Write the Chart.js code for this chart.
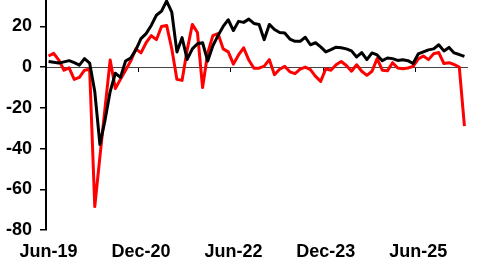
<!DOCTYPE html>
<html>
<head>
<meta charset="utf-8">
<script src="https://cdn.jsdelivr.net/npm/chart.js@4/dist/chart.umd.min.js"></script>
<style>
  html, body { margin: 0; padding: 0; background: #fff; }
</style>
</head>
<body>
<canvas id="myChart" width="487" height="275"></canvas>
<script>
"use strict";

// monthly, Jun-19 onwards
const blackSeries = [
    2.8, 2.4, 2.0, 2.6, 3.2, 2.2, 1.0, 4.2, 2.0, -12,
    -38, -26, -12, -3, -5, 3, 4.5, 8.5, 14, 16.5,
    20.5, 25.5, 27.5, 32.5, 27, 7.5, 14.5, 3.8, 9, 11.5,
    12, 3, 10.5, 15.5, 20, 23.3, 18, 22.5, 22, 23.6,
    21.5, 21, 13.5, 21, 18.5, 17, 16.8, 13.8, 12.7, 12.7,
    14.7, 11, 12, 10, 7.5, 8.6, 9.8, 9.5, 9, 8,
    5, 7.2, 3.7, 7, 6, 3.2, 4.5, 4.2, 3.3, 3.6,
    3.2, 1.8, 6.5, 7.5, 8.5, 9, 11, 8, 9.7, 7,
    6.2, 5.3
];
const redSeries = [
    5.5, 6.8, 3.5, -1.5, -0.3, -6, -5, -1.5, -1, -68.5,
    -44, -20, 3.5, -10.5, -6, -1.5, 3, 9, 7, 12,
    15.5, 13.5, 20, 20.5, 9, -6, -6.5, 8.5, 21, 17,
    -10, 7, 15.5, 16.5, 9, 7.5, 1.5, 6, 9.5, 3.5,
    -0.5, -0.5, 0.5, 3.7, -3.7, -1, 0.4, -2.3, -3.2, -1,
    0, -1.2, -4.5, -7, -0.8, -1.5, 1.2, 2.8, 0.8, -2,
    1.2, -2, -4, -2, 4.2, -1.5, -1.8, 2.2, -0.4, -0.8,
    -0.4, 0.4, 4, 5.5, 3.7, 6.6, 7.2, 1.8, 2.2, 1.3,
    0, -29
];
const tickLabels = ['Jun-19', 'Dec-20', 'Jun-22', 'Dec-23', 'Jun-25'];
const yTicks = [-80, -60, -40, -20, 0, 20];

const monthNames = ['Jan', 'Feb', 'Mar', 'Apr', 'May', 'Jun', 'Jul', 'Aug', 'Sep', 'Oct', 'Nov', 'Dec'];
const months = [];
for (let i = 0; i < blackSeries.length; i++) {
    const m = 5 + i;
    months.push(monthNames[m % 12] + '-' + (19 + Math.floor(m / 12)));
}
// small marks on the zero line sit between months
const tickMarks = tickLabels.map(l => months.indexOf(l) - 0.5);

const font = { family: "'Liberation Sans', Arial, sans-serif", size: 18, weight: 'bold' };

const ctx = document.getElementById('myChart');
const myChart = new Chart(ctx, {
    type: 'line',
    data: {
        labels: months,
        datasets: [{
            data: blackSeries,
            borderColor: '#000000',
            borderWidth: 3,
            pointRadius: 0,
            tension: 0,
            borderJoinStyle: 'round'
        }, {
            data: redSeries,
            borderColor: '#ff0000',
            borderWidth: 3,
            pointRadius: 0,
            tension: 0,
            borderJoinStyle: 'round'
        }]
    },
    options: {
        responsive: false,
        animation: false,
        layout: { padding: { left: 0, right: 20, top: 0, bottom: 0 } },
        plugins: { legend: { display: false }, tooltip: { enabled: false } },
        scales: {
            x: {
                type: 'category',
                offset: true,
                grid: { display: false, drawTicks: false },
                border: { display: false },
                ticks: {
                    autoSkip: false,
                    maxRotation: 0,
                    padding: 11,
                    color: '#000',
                    font: font,
                    callback: function (v) {
                        const l = this.getLabelForValue(v);
                        return tickLabels.includes(l) ? l : '';
                    }
                },
                afterFit: s => { s.height = 45; }
            },
            x2: {
                type: 'linear',
                position: { y: 0 },
                min: -0.5,
                max: months.length - 0.5,
                afterBuildTicks: s => { s.ticks = tickMarks.map(v => ({ value: v })); },
                ticks: { display: false },
                grid: { drawOnChartArea: false, drawTicks: true, tickLength: 4, color: '#000', lineWidth: 1 },
                border: { color: '#444', width: 1 }
            },
            y: {
                min: -80,
                max: 33,
                afterBuildTicks: s => { s.ticks = yTicks.map(v => ({ value: v })); },
                afterFit: s => { s.width = 46; s.paddingTop = 0; },
                grid: { drawOnChartArea: false, tickLength: 6, color: '#000', lineWidth: 1.5 },
                border: { color: '#000', width: 2 },
                ticks: { padding: 8, color: '#000', font: font }
            }
        }
    }
});
</script>
</body>
</html>
